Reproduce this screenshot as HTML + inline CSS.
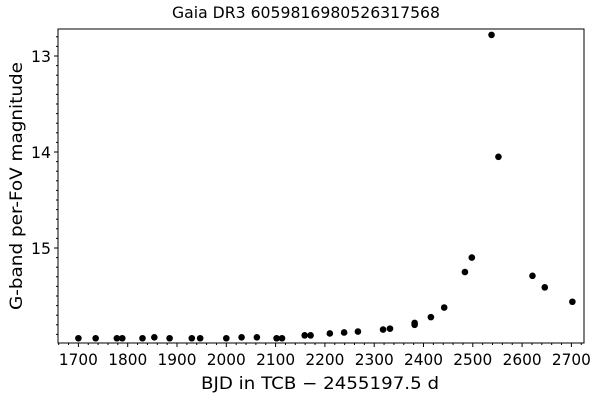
<!DOCTYPE html>
<html><head><meta charset="utf-8"><style>
body{margin:0;background:#fff;}
svg{display:block;font-family:"DejaVu Sans","Liberation Sans",sans-serif;}
</style></head><body>
<svg id="chart" width="600" height="400">
<text x="306" y="18" text-anchor="middle" font-size="16" textLength="268" lengthAdjust="spacingAndGlyphs">Gaia DR3 6059816980526317568</text>
<text x="320" y="389" text-anchor="middle" font-size="17" textLength="238" lengthAdjust="spacingAndGlyphs">BJD in TCB − 2455197.5 d</text>
<text transform="translate(22,186) rotate(-90)" text-anchor="middle" font-size="17" textLength="248" lengthAdjust="spacingAndGlyphs">G-band per-FoV magnitude</text>
<g id="ticks"></g>
<g id="points"></g>
<rect x="58" y="29" width="526" height="314" fill="none" stroke="#000" stroke-width="1"/>
</svg>
<script>
const times=[1700,1735,1778,1789,1830,1854,1885,1930,1947,2000,2031,2062,2102,2113,2159,2171,2210,2239,2267,2318,2332,2382,2382,2415,2442,2484,2498,2538,2552,2621,2646,2702];
const mags=[15.94,15.94,15.94,15.94,15.94,15.93,15.94,15.94,15.94,15.94,15.93,15.93,15.94,15.94,15.91,15.91,15.89,15.88,15.87,15.85,15.84,15.78,15.80,15.72,15.62,15.25,15.10,12.78,14.05,15.29,15.41,15.56];
const xTicks=[1700,1800,1900,2000,2100,2200,2300,2400,2500,2600,2700];
const yTicks=[13,14,15];
const X=d=>78.4+(d-1700)*0.493;
const Y=m=>56+(m-13)*96;
const NS="http://www.w3.org/2000/svg";
const tg=document.getElementById('ticks'), pg=document.getElementById('points');
function mk(t,a,p){const e=document.createElementNS(NS,t);for(const k in a)e.setAttribute(k,a[k]);p.appendChild(e);return e;}
for(let d=1660;d<=2726;d+=20){const x=X(d);const major=d%100===0;
 const l=mk('line',{x1:x,x2:x,y1:343,y2:major?347:345,stroke:'#000','stroke-width':1},tg);
 
 }
xTicks.forEach(d=>{const t=mk('text',{x:X(d),y:365,'text-anchor':'middle','font-size':16,textLength:39,lengthAdjust:'spacingAndGlyphs'},tg);t.textContent=d;
 
 });
for(let i=128;i<=199;i++){const m=i/10;const y=Y(m);if(y<29||y>343)continue;const major=i%10===0;
 const l=mk('line',{x1:major?54:56,x2:58,y1:y,y2:y,stroke:'#000','stroke-width':1},tg);
 
 }
yTicks.forEach(m=>{const t=mk('text',{x:51,y:Y(m)+6,'text-anchor':'end','font-size':16,textLength:20,lengthAdjust:'spacingAndGlyphs'},tg);t.textContent=m;
 
 });
times.forEach((d,i)=>{const c=mk('circle',{cx:X(d),cy:Y(mags[i]),r:3.3,fill:'#000'},pg);
 
 });
</script>
</body></html>
